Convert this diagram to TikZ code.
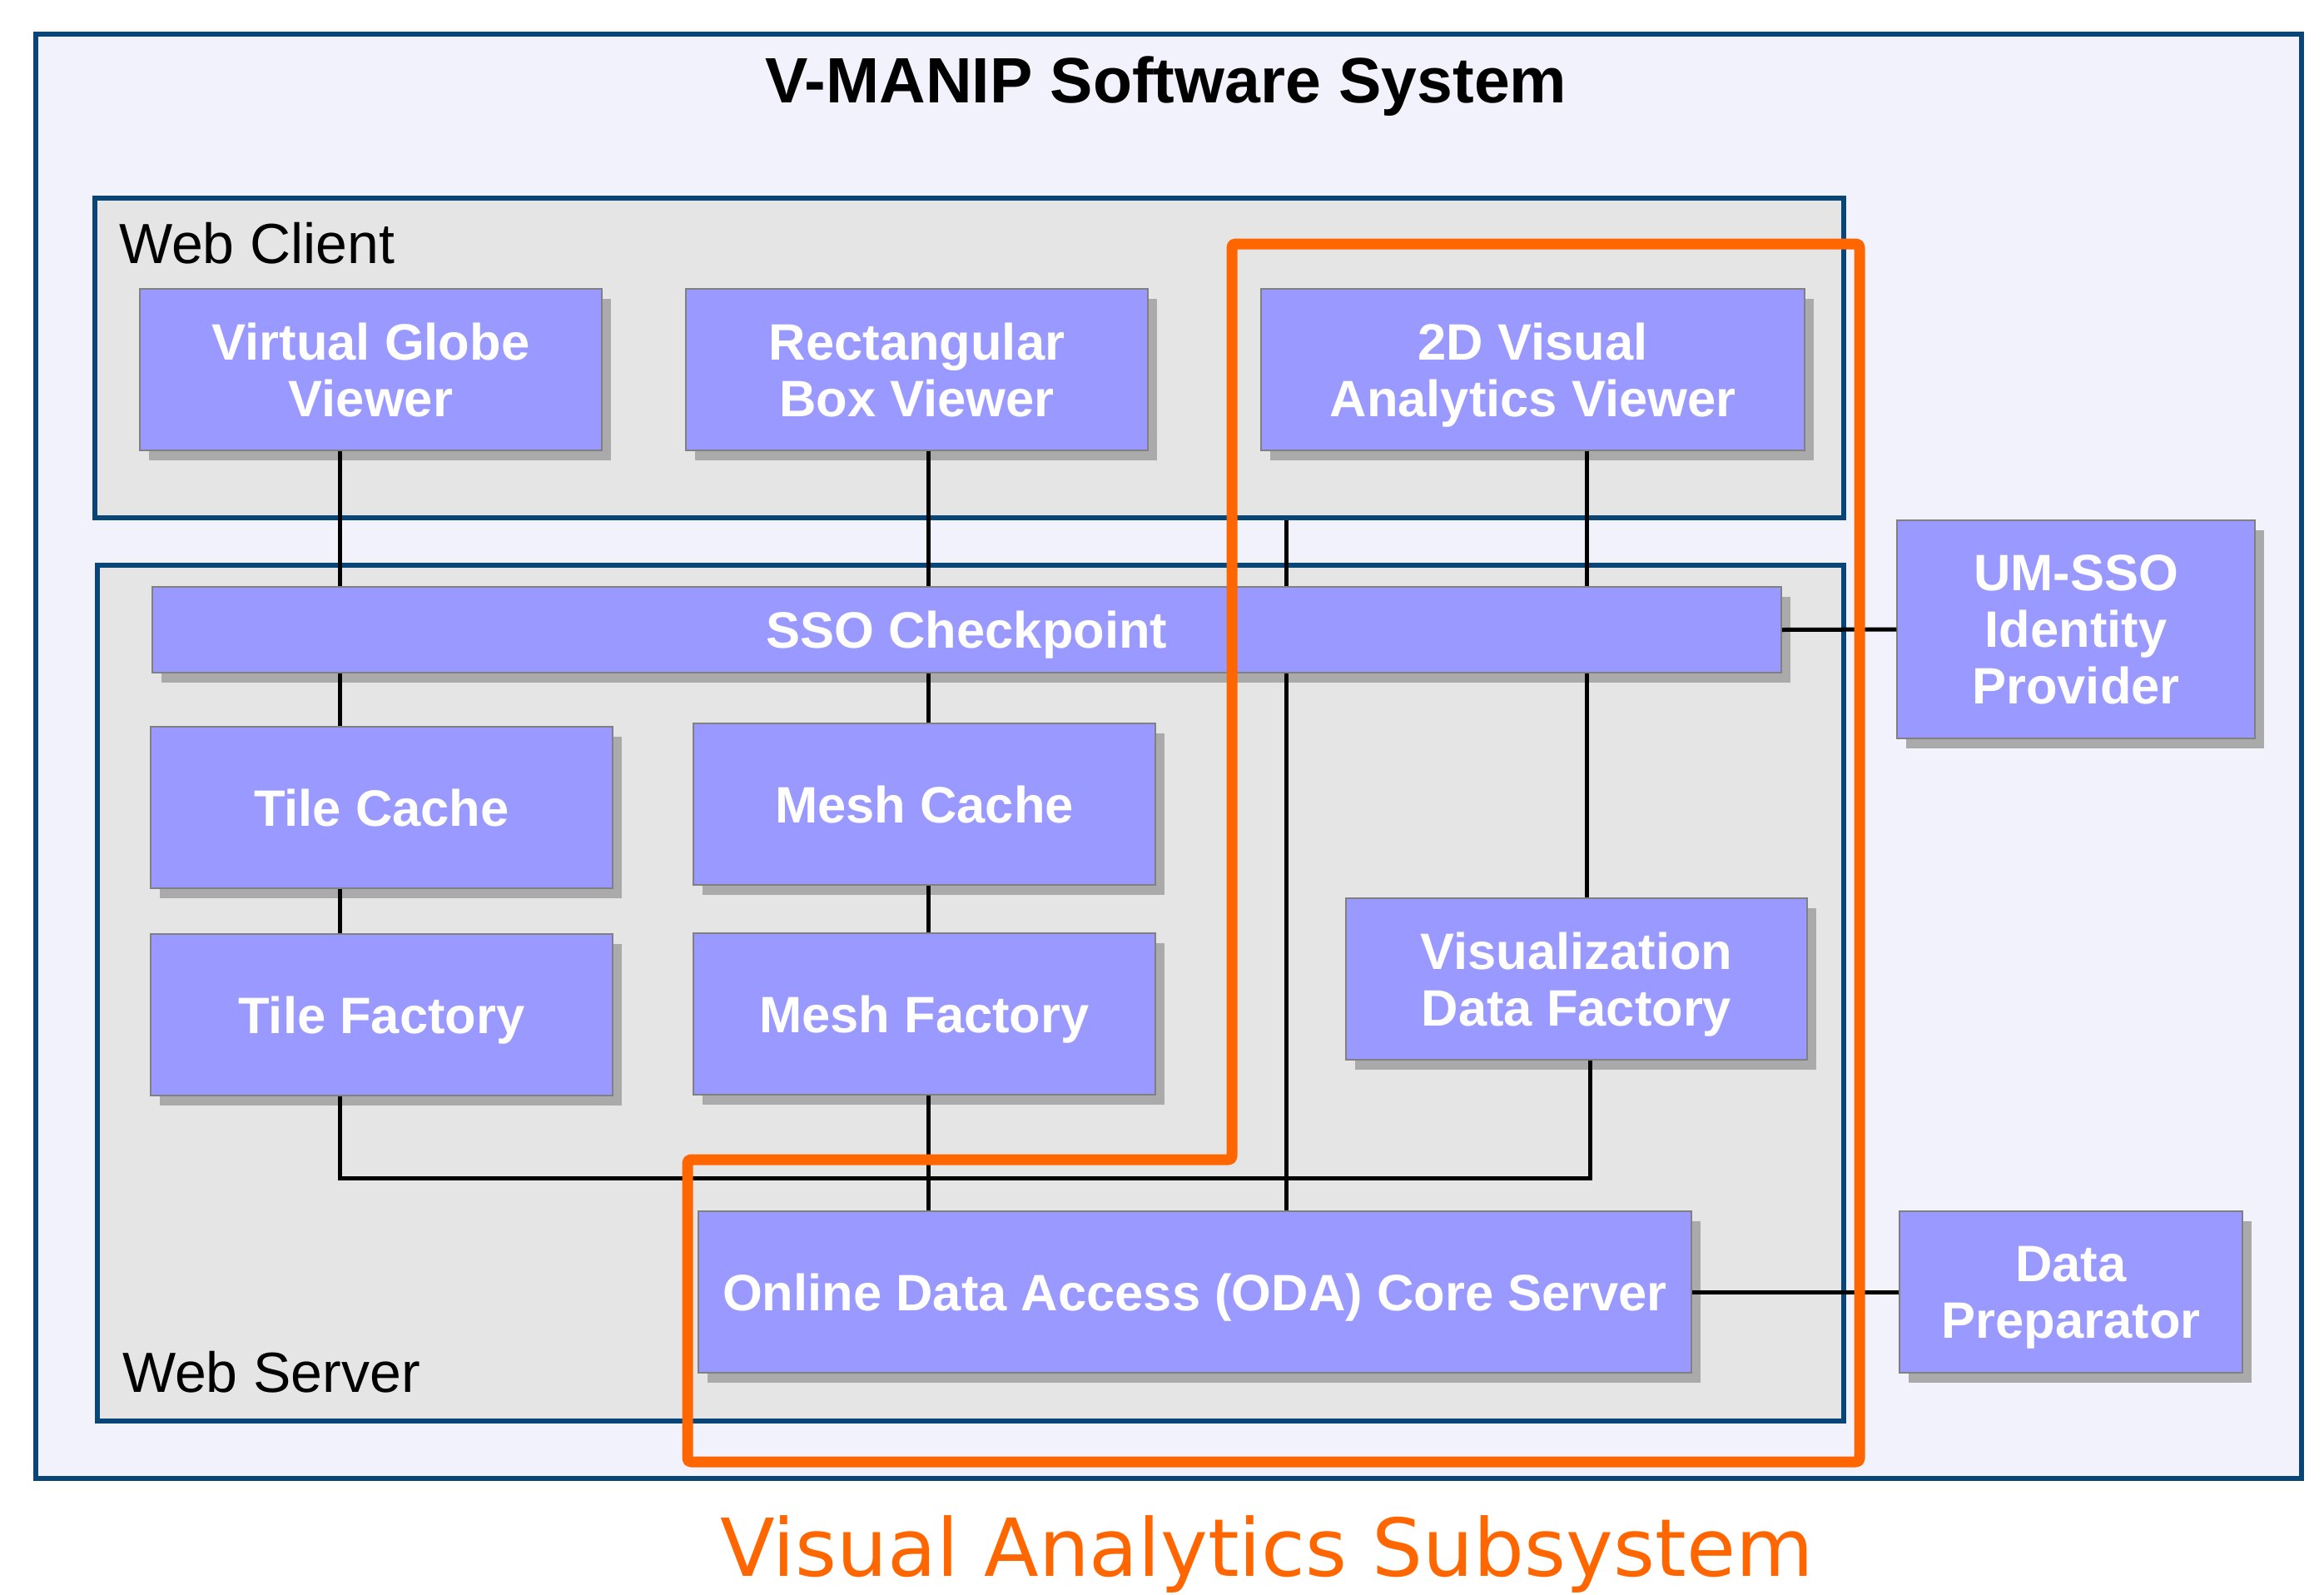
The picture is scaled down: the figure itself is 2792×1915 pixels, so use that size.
\documentclass[tikz,border=0pt]{standalone}
\usepackage{fontspec}
\setmainfont{Liberation Sans}
\newfontfamily\dejavu{DejaVu Sans}
\usetikzlibrary{shadows}
\definecolor{outerfill}{HTML}{F1F2FC}
\definecolor{navy}{HTML}{0A4577}
\definecolor{contfill}{HTML}{E5E5E5}
\definecolor{compfill}{HTML}{9999FF}
\definecolor{compline}{HTML}{808080}
\definecolor{shadowgray}{HTML}{AAAAAA}
\definecolor{vaorange}{HTML}{FF6600}
\newcommand\nodp[1]{\raisebox{0pt}[\height][0pt]{#1}}
\tikzset{
  outerbox/.style={draw=navy, line width=5.3pt, fill=outerfill, rectangle, inner sep=0pt},
  contbox/.style={draw=navy, line width=5.3pt, fill=contfill, rectangle, inner sep=0pt},
  comp/.style={draw=compline, line width=1.5pt, fill=compfill, rectangle, inner sep=0pt,
    text=white, align=center, font=\fontsize{61.5}{68}\selectfont\bfseries,
    drop shadow={shadow xshift=11pt, shadow yshift=-12pt, fill=shadowgray, opacity=1}},
  conn/.style={draw=black, line width=5pt},
  vaframe/.style={draw=vaorange, line width=13pt, rounded corners=4pt, line join=round},
  lbl/.style={font=\fontsize{68}{72}\selectfont, text=black, inner sep=0pt, anchor=base west}
}
\begin{document}
\begin{tikzpicture}[x=1pt, y=-1pt]
\useasboundingbox (0,0) rectangle (2792,1915);
% containers
\node[outerbox, minimum width=2722pt, minimum height=1735pt] (sys) at (1404,908.5) {};
\node[contbox, minimum width=2101pt, minimum height=384pt] (wc) at (1164.5,430) {};
\node[contbox, minimum width=2098pt, minimum height=1028pt] (ws) at (1166,1193) {};
\node[font=\fontsize{77}{80}\selectfont\bfseries, inner sep=0pt, anchor=base] (title) at (1401,123) {V-MANIP Software System};
\node[lbl] (wclbl) at (143,316) {Web Client};
\node[lbl] (wslbl) at (147,1672) {Web Server};
% column coordinates
\coordinate (c1) at (408,0);
\coordinate (c2) at (1115,0);
\coordinate (c4) at (1545,0);
\coordinate (c3) at (1906,0);
\coordinate (c3b) at (1910,0);
\coordinate (bus) at (0,1415);
% components
\node[comp, minimum width=555pt, minimum height=194pt] (vgv) at (445.5,444) {Virtual Globe\\\nodp{Viewer}};
\node[comp, minimum width=555pt, minimum height=194pt] (rbv) at (1101.5,444) {Rectangular\\\nodp{Box Viewer}};
\node[comp, minimum width=653pt, minimum height=194pt] (va2d) at (1841.5,444) {2D Visual\\\nodp{Analytics Viewer}};
\node[comp, minimum width=1957pt, minimum height=103pt] (sso) at (1161.5,756.5) {\nodp{SSO Checkpoint}};
\node[comp, minimum width=430pt, minimum height=262pt] (umsso) at (2494,756) {UM-SSO\\Identity\\\nodp{Provider}};
\node[comp, minimum width=555pt, minimum height=194pt] (tc) at (458.5,970) {\nodp{Tile Cache}};
\node[comp, minimum width=555pt, minimum height=194pt] (mc) at (1110.5,966) {\nodp{Mesh Cache}};
\node[comp, minimum width=555pt, minimum height=194pt] (tf) at (458.5,1219) {\nodp{Tile Factory}};
\node[comp, minimum width=555pt, minimum height=194pt] (mf) at (1110.5,1218) {\nodp{Mesh Factory}};
\node[comp, minimum width=554pt, minimum height=194pt] (vdf) at (1894,1176) {Visualization\\\nodp{Data Factory}};
\node[comp, minimum width=1193pt, minimum height=194pt] (oda) at (1435.5,1552) {\nodp{Online Data Access (ODA) Core Server}};
\node[comp, minimum width=412pt, minimum height=194pt] (dp) at (2488,1552) {Data\\\nodp{Preparator}};
% connectors
\draw[conn] (vgv.south -| c1) -- (sso.north -| c1);
\draw[conn] (sso.south -| c1) -- (tc.north -| c1);
\draw[conn] (tc.south -| c1) -- (tf.north -| c1);
\draw[conn] (tf.south -| c1) -- (c1 |- bus) -- (c3b |- bus) -- (vdf.south -| c3b);
\draw[conn] (rbv.south -| c2) -- (sso.north -| c2);
\draw[conn] (sso.south -| c2) -- (mc.north -| c2);
\draw[conn] (mc.south -| c2) -- (mf.north -| c2);
\draw[conn] (mf.south -| c2) -- (oda.north -| c2);
\draw[conn] (wc.south -| c4) -- (sso.north -| c4);
\draw[conn] (sso.south -| c4) -- (oda.north -| c4);
\draw[conn] (va2d.south -| c3) -- (sso.north -| c3);
\draw[conn] (sso.south -| c3) -- (vdf.north -| c3);
\draw[conn] (sso.east) -- (umsso.west);
\draw[conn] (oda.east) -- (dp.west);
% visual analytics subsystem frame
\coordinate (o1) at (1480,293);
\coordinate (o2) at (2234,293);
\coordinate (o3) at (2234,1756);
\coordinate (o4) at (826,1756);
\coordinate (o5) at (826,1393);
\coordinate (o6) at (1480,1393);
\draw[vaframe] (o1) -- (o2) -- (o3) -- (o4) -- (o5) -- (o6) -- cycle;
\node[font=\dejavu\fontsize{96}{100}\selectfont, text=vaorange, inner sep=0pt, anchor=base] (valbl) at (1522,1893) {Visual Analytics Subsystem};
\end{tikzpicture}
\end{document}
